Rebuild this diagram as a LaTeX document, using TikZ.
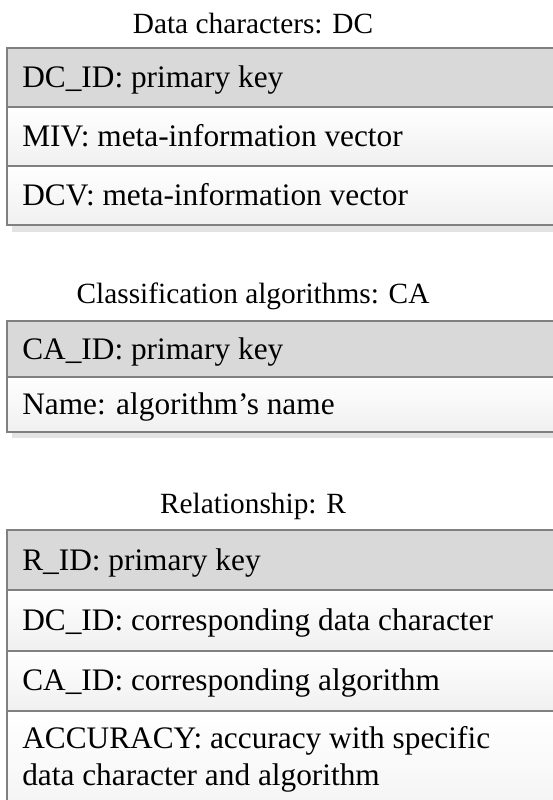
\documentclass[tikz,border=0pt]{standalone}
\usepackage{fontspec}
\setmainfont{Liberation Serif}
\definecolor{rowgray}{HTML}{D9D9D9}
\definecolor{edgegray}{HTML}{808080}
\definecolor{shadowgray}{HTML}{E3E3E3}

\begin{document}
\begin{tikzpicture}[x=0.75pt,y=-0.75pt,
    keyrow/.style={draw=edgegray, line width=1.1pt, fill=rowgray},
    attrrow/.style={draw=edgegray, line width=1.1pt, top color=white, bottom color=black!6},
    tabshadow/.style={fill=shadowgray},
    tabletitle/.style={anchor=base, inner sep=0pt, font=\fontsize{22}{26}\selectfont},
    field/.style={anchor=base west, inner sep=0pt, align=left, font=\fontsize{23.5}{27.75}\selectfont}]
  \clip (0,0) rectangle (553,800);
  % table DC
  \node[tabletitle] (dctitle) at (253,33) {Data characters: DC};
  \fill[tabshadow] (12,54) rectangle (640,232);
  \draw[keyrow] (7,48) rectangle (630,107);
  \draw[attrrow] (7,107) rectangle (630,166);
  \draw[attrrow] (7,166) rectangle (630,225);
  \node[field] (dcid) at (22,87) {DC\_ID: primary key};
  \node[field] (dcmiv) at (22,146) {MIV: meta-information vector};
  \node[field] (dcdcv) at (22,205) {DCV: meta-information vector};
  % table CA
  \node[tabletitle] (catitle) at (253,303) {Classification algorithms: CA};
  \fill[tabshadow] (12,327) rectangle (640,438);
  \draw[keyrow] (7,321) rectangle (630,377);
  \draw[attrrow] (7,377) rectangle (630,432);
  \node[field] (caid) at (22,359) {CA\_ID: primary key};
  \node[field] (caname) at (22,414) {Name: algorithm’s name};
  % table R
  \node[tabletitle] (rtitle) at (253,513) {Relationship: R};
  \draw[keyrow] (7,530) rectangle (630,590);
  \draw[attrrow] (7,590) rectangle (630,651);
  \draw[attrrow] (7,651) rectangle (630,711);
  \draw[attrrow] (7,711) rectangle (630,850);
  \node[field] (rid) at (22,570) {R\_ID: primary key};
  \node[field] (rdc) at (22,630) {DC\_ID: corresponding data character};
  \node[field] (rca) at (22,690) {CA\_ID: corresponding algorithm};
  \node[field] (racc) at (22,785) {ACCURACY: accuracy with specific\\data character and algorithm};
\end{tikzpicture}
\end{document}
